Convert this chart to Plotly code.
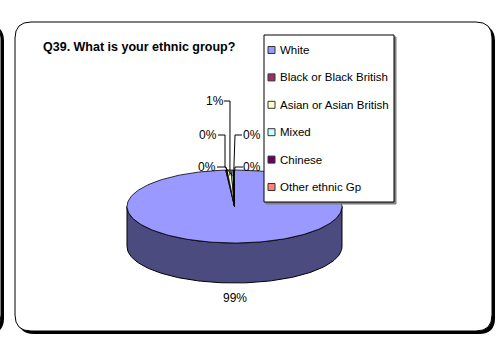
import numpy as np
import plotly.graph_objects as go

# Survey answers (percent of respondents)
groups = ["White", "Black or Black British", "Asian or Asian British",
          "Mixed", "Chinese", "Other ethnic Gp"]
shares = [98.7, 0.2, 0.6, 0.3, 0.1, 0.1]
colours = ["#9999FF", "#993366", "#FFFFCC", "#CCFFFF", "#660066", "#FF8080"]
side_colours = ["#4B4B80", "#4D1A33", "#808066", "#668080", "#330033", "#804040"]
title_text = "Q39. What is your ethnic group?"

W, H = 496, 337
FONT = "Liberation Sans, Arial, sans-serif"

# 3-D pie geometry (pixel space, y grows downward)
cx, cy, rx, ry, depth = 234.5, 206.5, 107.5, 36.5, 40


def rim(t0, t1, dy=0.0, frac=1.0, n=None):
    """Points on the ellipse rim; angles in degrees, clockwise from 12 o'clock."""
    if n is None:
        n = max(2, int(abs(t1 - t0) / 1.5) + 2)
    t = np.radians(np.linspace(t0, t1, n))
    return cx + frac * rx * np.sin(t), cy - frac * ry * np.cos(t) + dy


def rrect(x0, y0, x1, y1, r):
    return (f"M{x0+r},{y0} L{x1-r},{y0} Q{x1},{y0} {x1},{y0+r} "
            f"L{x1},{y1-r} Q{x1},{y1} {x1-r},{y1} L{x0+r},{y1} "
            f"Q{x0},{y1} {x0},{y1-r} L{x0},{y0+r} Q{x0},{y0} {x0+r},{y0} Z")


total = float(sum(shares))
bounds = np.concatenate([[0.0], np.cumsum(shares) / total * 360.0])

fig = go.Figure()

# Side wall: only the front half (90..270 deg) is visible
for i, col in enumerate(side_colours):
    a0, a1 = max(bounds[i], 90.0), min(bounds[i + 1], 270.0)
    if a1 <= a0:
        continue
    tx, ty = rim(a0, a1)
    bx, by = rim(a1, a0, dy=depth)
    fig.add_trace(go.Scatter(
        x=np.concatenate([tx, bx, tx[:1]]), y=np.concatenate([ty, by, ty[:1]]),
        fill="toself", fillcolor=col, mode="lines",
        line=dict(color="black", width=1), hoverinfo="skip", showlegend=False))

# Top face slices
for i, col in enumerate(colours):
    tx, ty = rim(bounds[i], bounds[i + 1])
    fig.add_trace(go.Scatter(
        x=np.concatenate([[cx], tx, [cx]]), y=np.concatenate([[cy], ty, [cy]]),
        fill="toself", fillcolor=col, mode="lines",
        line=dict(color="black", width=0.8), hoverinfo="skip", showlegend=False))

# Percentage labels and leader lines
labels = [f"{round(v):.0f}%" for v in shares]
label_centre = {0: (235, 298), 1: (207, 167), 2: (215, 101), 3: (208, 135),
                4: (252, 135), 5: (252, 167)}
leader_elbows = {1: [(217, 167), (226, 167)],
                 2: [(224, 101), (230, 101)],
                 3: [(218, 135), (225, 135), (225, 167)],
                 4: [(242, 135), (235, 135)],
                 5: [(243, 167), (235, 167)]}
for i, pts in leader_elbows.items():
    mid = 0.5 * (bounds[i] + bounds[i + 1])
    ex, ey = rim(mid, mid, frac=0.85, n=1)
    xs = [p[0] for p in pts] + [float(ex[0])]
    ys = [p[1] for p in pts] + [float(ey[0])]
    fig.add_trace(go.Scatter(x=xs, y=ys, mode="lines",
                             line=dict(color="black", width=1),
                             hoverinfo="skip", showlegend=False))

annotations = []
for i, txt in enumerate(labels):
    x, y = label_centre[i]
    annotations.append(dict(x=x, y=y, text=txt, showarrow=False,
                            xanchor="center", yanchor="middle",
                            font=dict(family=FONT, size=12, color="black")))

# Legend box with drop shadow, drawn over the pie
lx0, ly0, lx1, ly1 = 264, 35, 394, 202
for off, fc, lc in [(2, "#808080", "#808080"), (0, "white", "black")]:
    fig.add_trace(go.Scatter(
        x=[lx0 + off, lx1 + off, lx1 + off, lx0 + off, lx0 + off],
        y=[ly0 + off, ly0 + off, ly1 + off, ly1 + off, ly0 + off],
        fill="toself", fillcolor=fc, mode="lines",
        line=dict(color=lc, width=1), hoverinfo="skip", showlegend=False))

item_y = [50 + 27.4 * k for k in range(len(groups))]
fig.add_trace(go.Scatter(
    x=[271.5] * len(groups), y=item_y, mode="markers",
    marker=dict(symbol="square", size=7, color=colours,
                line=dict(color="#333333", width=1)),
    hoverinfo="skip", showlegend=False))
for name, y in zip(groups, item_y):
    annotations.append(dict(x=278, y=y, text=name, showarrow=False,
                            xanchor="left", yanchor="middle",
                            font=dict(family=FONT, size=11.5, color="black")))

annotations.append(dict(x=41, y=47, text=f"<b>{title_text}</b>", showarrow=False,
                        xanchor="left", yanchor="middle",
                        font=dict(family=FONT, size=12.5, color="black")))

# Panel frames (rounded boxes with a solid shadow)
shapes = [
    dict(type="path", path=rrect(-400, 25, 4, 334, 16), fillcolor="black",
         line=dict(width=0), layer="below"),
    dict(type="path", path=rrect(-400, 22, 1, 331, 16), fillcolor="white",
         line=dict(color="black", width=1), layer="below"),
    dict(type="path", path=rrect(18, 25, 495, 334, 16), fillcolor="black",
         line=dict(width=0), layer="below"),
    dict(type="path", path=rrect(15, 22, 492, 331, 16), fillcolor="white",
         line=dict(color="black", width=1), layer="below"),
]

fig.update_layout(
    width=W, height=H, margin=dict(l=0, r=0, t=0, b=0),
    paper_bgcolor="white", plot_bgcolor="white",
    xaxis=dict(range=[0, W], visible=False, fixedrange=True),
    yaxis=dict(range=[H, 0], visible=False, fixedrange=True),
    shapes=shapes, annotations=annotations, showlegend=False,
)

fig.write_html("out.html")
